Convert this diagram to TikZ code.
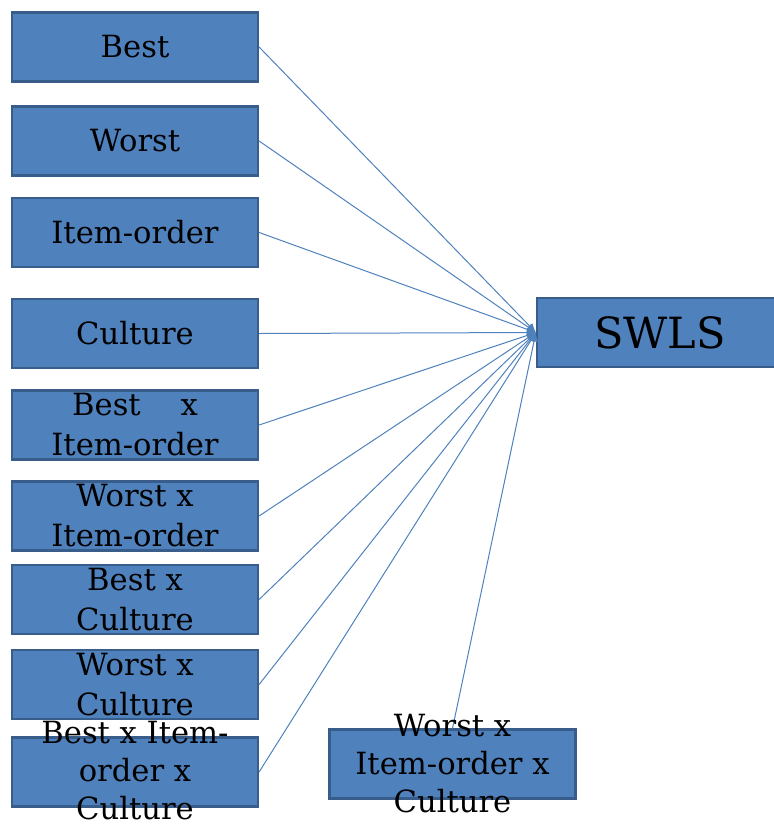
\documentclass[tikz,border=0pt]{standalone}
\usepackage{fontspec}
\setmainfont{DejaVu Serif}
\usetikzlibrary{arrows.meta}
\definecolor{boxfill}{HTML}{4F81BD}
\definecolor{boxedge}{HTML}{385D8A}
\begin{document}
\begin{tikzpicture}[x=0.5pt,y=-0.5pt,
  var/.style={rectangle, fill=boxfill, draw=boxedge, line width=1.1pt,
    minimum width=123pt, minimum height=34.5pt, inner sep=0pt,
    font=\fontsize{15.3}{20}\selectfont, align=center, text=black},
  boxtext/.style={inner sep=0pt, font=\fontsize{15.3}{19}\selectfont,
    align=center, text=black},
  link/.style={draw=boxfill, line width=0.5pt, -{Latex[length=4.5pt,width=4pt]}}]
\useasboundingbox (0,0) rectangle (773,826);

% predictors
\node[var] (best)  at (135,47)    {Best};
\node[var] (worst) at (135,141)   {Worst};
\node[var] (item)  at (135,232.5) {Item-order};
\node[var] (cult)  at (135,333.5) {Culture};
\node[var] (bi)    at (135,425)   {Best\hspace{1.3em}x\\Item-order};
\node[var] (wi)    at (135,516)   {Worst x\\Item-order};
\node[var] (bc)    at (135,599.5) {Best x\\Culture};
\node[var] (wc)    at (135,684.5) {Worst x\\Culture};
\node[var] (bic)   at (135,772)   {};
\node[boxtext] (bictext) at ([yshift=0.5pt]bic.center) {Best x Item-\\order x\\Culture};
\node[var] (wic)   at (452.5,764) {};

% outcome
\node[var, font=\fontsize{21.5}{24}\selectfont] (swls) at (660,332.5) {SWLS};

% paths into the outcome
\foreach \p in {best,worst,item,cult,bi,wi,bc,wc,bic}
  \draw[link] (\p.east) -- (swls.west);
\draw[link] (wic.north) -- (swls.west);

\node[boxtext] (wictext) at (wic.center) {Worst x\\Item-order x\\Culture};
\end{tikzpicture}
\end{document}
